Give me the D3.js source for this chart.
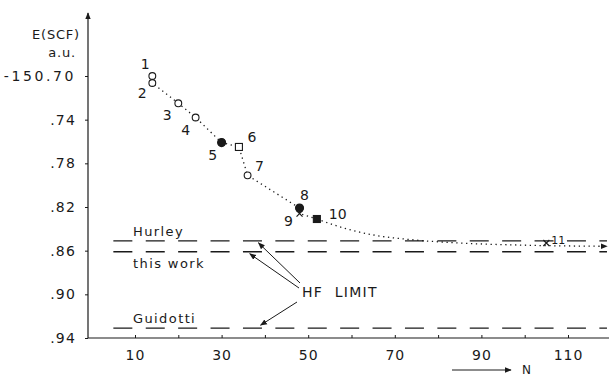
<!DOCTYPE html>
<html>
<head>
<meta charset="utf-8">
<script src="https://cdn.jsdelivr.net/npm/d3@7"></script>
<style>
  body { margin: 0; background: #fff; }
  text { font-family: "DejaVu Sans", sans-serif; fill: #1a1a1a; }
</style>
</head>
<body>
<div id="chart"></div>
<script>
// values (E is the part after -150., in a.u.)
const pointLabels = ['1', '2', '3', '4', '5', '6', '7', '8', '9', '10', '11'];
const basisSize = [14, 14, 20, 24, 30, 34, 36, 48, 48, 52, 105];
const energy = [0.700, 0.7064, 0.725, 0.738, 0.761, 0.765, 0.791, 0.821, 0.826, 0.831, 0.853];
const markerKind = ['open', 'open', 'open', 'open', 'filled', 'openSquare', 'open', 'filled', 'cross', 'filledSquare', 'cross'];

// dotted extrapolation from point 10 towards the HF limit
const trendN = [52, 58, 65, 74, 85, 100, 119];
const trendE = [0.831, 0.839, 0.8456, 0.850, 0.853, 0.855, 0.856];

const limitNames = ['Hurley', 'this work', 'Guidotti'];
const limitValues = [0.851, 0.861, 0.931];

const yTickValues = [0.70, 0.74, 0.78, 0.82, 0.86, 0.90, 0.94];
const yTickLabels = ['-150.70', '.74', '.78', '.82', '.86', '.90', '.94'];
const xTickValues = [10, 20, 30, 40, 50, 60, 70, 80, 90, 100, 110];
const xTickLabels = ['10', '', '30', '', '50', '', '70', '', '90', '', '110'];

const width = 609, height = 377;
const axisX = 88, axisY = 338;
const ink = '#1a1a1a';

const svg = d3.select('#chart').append('svg')
    .attr('width', width)
    .attr('height', height);

const x = d3.scaleLinear().domain([10, 110]).range([135, 568]);
const y = d3.scaleLinear().domain([0.70, 0.94]).range([76, 338]);

// arrowhead
svg.append('defs').append('marker')
    .attr('id', 'head')
    .attr('viewBox', '0 0 10 10')
    .attr('refX', 9).attr('refY', 5)
    .attr('markerWidth', 7).attr('markerHeight', 7)
    .attr('markerUnits', 'userSpaceOnUse')
    .attr('orient', 'auto')
    .append('path')
    .attr('d', 'M0,1 L10,5 L0,9 Z')
    .attr('fill', ink);

// axes
const xAxis = d3.axisBottom(x)
    .tickValues(xTickValues)
    .tickSize(-3)
    .tickPadding(10)
    .tickFormat((d, i) => xTickLabels[i]);

const gx = svg.append('g')
    .attr('transform', `translate(0,${axisY})`)
    .call(xAxis);
gx.select('.domain').remove();
gx.append('line')
    .attr('x1', axisX).attr('x2', 609)
    .attr('stroke', ink).attr('stroke-width', 1.2);
gx.selectAll('.tick line').attr('stroke', ink);
gx.selectAll('.tick text')
    .attr('fill', ink)
    .style('font-size', '14px')
    .style('letter-spacing', '1px')
    .attr('dy', '0.85em');

const yAxis = d3.axisLeft(y)
    .tickValues(yTickValues)
    .tickSize(3)
    .tickPadding(9)
    .tickFormat((d, i) => yTickLabels[i]);

const gy = svg.append('g')
    .attr('transform', `translate(${axisX},0)`)
    .call(yAxis);
gy.select('.domain').remove();
gy.append('line')
    .attr('y1', axisY).attr('y2', 13)
    .attr('stroke', ink).attr('stroke-width', 1.2)
    .attr('marker-end', 'url(#head)');
gy.selectAll('.tick line').attr('stroke', ink);
gy.selectAll('.tick text')
    .attr('fill', ink)
    .style('font-size', '14px')
    .style('letter-spacing', (d, i) => i === 0 ? '2.6px' : '1.2px');

svg.append('text')
    .attr('x', 80).attr('y', 39)
    .attr('text-anchor', 'end')
    .style('font-size', '13px')
    .style('letter-spacing', '0.8px')
    .text('E(SCF)');
svg.append('text')
    .attr('x', 76).attr('y', 57)
    .attr('text-anchor', 'end')
    .style('font-size', '13px')
    .style('letter-spacing', '0.8px')
    .text('a.u.');

// N arrow
svg.append('line')
    .attr('x1', 452).attr('x2', 511)
    .attr('y1', 370).attr('y2', 370)
    .attr('stroke', ink).attr('stroke-width', 1)
    .attr('marker-end', 'url(#head)');
svg.append('text')
    .attr('x', 522).attr('y', 374)
    .style('font-size', '12px')
    .text('N');

// HF limit dashed lines
const limitG = svg.append('g');
limitValues.forEach((v, i) => {
    limitG.append('line')
        .attr('x1', x(5)).attr('x2', x(119))
        .attr('y1', y(v)).attr('y2', y(v))
        .attr('stroke', ink)
        .attr('stroke-width', 1.3)
        .attr('stroke-dasharray', '19,13.4');
});
const limitTextDy = [-5, 16, -5];
limitNames.forEach((name, i) => {
    svg.append('text')
        .attr('x', 133)
        .attr('y', y(limitValues[i]) + limitTextDy[i])
        .style('font-size', '13px')
        .style('letter-spacing', '1.4px')
        .text(name);
});

svg.append('text')
    .attr('x', 302).attr('y', 297)
    .style('font-size', '14px')
    .style('letter-spacing', '1.3px')
    .attr('xml:space', 'preserve')
    .text('HF  LIMIT');

// arrows from HF LIMIT to the lines
const arrowTargets = [[38.5, 0], [36.5, 1], [39, 2]];
const arrowStarts = [[300, 283], [299, 288], [297, 302]];
arrowTargets.forEach((t, i) => {
    const tx = x(t[0]);
    const ty = y(limitValues[t[1]]) + (t[1] === 2 ? -3 : 2);
    svg.append('line')
        .attr('x1', arrowStarts[i][0]).attr('y1', arrowStarts[i][1])
        .attr('x2', tx).attr('y2', ty)
        .attr('stroke', ink).attr('stroke-width', 1)
        .attr('marker-end', 'url(#head)');
});

// dotted convergence curve
const pathPts = d3.range(10).map(i => [basisSize[i], energy[i]]);
const line = d3.line().x(d => x(d[0])).y(d => y(d[1]));

svg.append('path')
    .attr('d', line(pathPts))
    .attr('fill', 'none')
    .attr('stroke', ink)
    .attr('stroke-width', 1.3)
    .attr('stroke-dasharray', '1.3,3.6');

const trendPts = trendN.map((n, i) => [n, trendE[i]]);
svg.append('path')
    .attr('d', line.curve(d3.curveMonotoneX)(trendPts))
    .attr('fill', 'none')
    .attr('stroke', ink)
    .attr('stroke-width', 1.3)
    .attr('stroke-dasharray', '1.3,3.6')
    .attr('marker-end', 'url(#head)');

// markers
const pts = svg.append('g');
basisSize.forEach((n, i) => {
    const cx = x(n), cy = y(energy[i]);
    const kind = markerKind[i];
    if (kind === 'open' || kind === 'filled') {
        pts.append('circle')
            .attr('cx', cx).attr('cy', cy)
            .attr('r', kind === 'filled' ? 4 : 3.4)
            .attr('fill', kind === 'filled' ? ink : '#fff')
            .attr('stroke', ink).attr('stroke-width', 1.1);
    } else if (kind === 'openSquare' || kind === 'filledSquare') {
        pts.append('rect')
            .attr('x', cx - 3.5).attr('y', cy - 3.5)
            .attr('width', 7).attr('height', 7)
            .attr('fill', kind === 'filledSquare' ? ink : '#fff')
            .attr('stroke', ink).attr('stroke-width', 1.1);
    } else {
        pts.append('path')
            .attr('d', `M${cx - 3},${cy - 3}L${cx + 3},${cy + 3}M${cx + 3},${cy - 3}L${cx - 3},${cy + 3}`)
            .attr('stroke', ink).attr('stroke-width', 1.2);
    }
});

// point labels (offsets from the marker)
const labelOffsets = [[-7, -7], [-10, 15], [-11, 17], [-10, 18], [-9, 17], [13, -5], [12, -4], [5, -8], [-11, 12], [12, 0], [5, 1]];
pointLabels.forEach((lab, i) => {
    const o = labelOffsets[i];
    svg.append('text')
        .attr('x', x(basisSize[i]) + o[0])
        .attr('y', y(energy[i]) + o[1])
        .attr('text-anchor', i === 9 || i === 10 ? 'start' : 'middle')
        .style('font-size', i === 10 ? '11px' : '14px')
        .text(lab);
});
</script>
</body>
</html>
